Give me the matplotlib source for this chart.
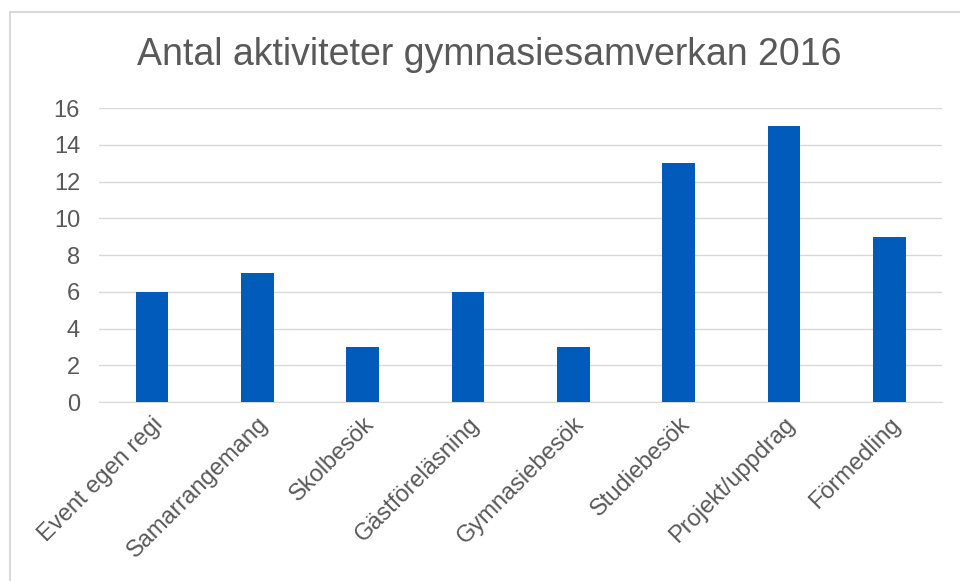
import matplotlib
matplotlib.use('Agg')
import matplotlib.pyplot as plt
from matplotlib.patches import Rectangle

categories = ['Event egen regi', 'Samarrangemang', 'Skolbesök', 'Gästföreläsning',
              'Gymnasiebesök', 'Studiebesök', 'Projekt/uppdrag', 'Förmedling']
values = [6, 7, 3, 6, 3, 13, 15, 9]
yticks = [0, 2, 4, 6, 8, 10, 12, 14, 16]

plt.rcParams['font.family'] = ['Liberation Sans', 'DejaVu Sans']
text_color = '#595959'
grid_color = '#d9d9d9'
bar_color = '#005bbb'

fig = plt.figure(figsize=(9.6, 5.81), dpi=100)
ax = fig.add_axes([0.1036, 0.308, 0.8775, 0.506])

x = range(len(categories))
ax.bar(x, values, width=0.31, color=bar_color, zorder=3)
ax.set_xlim(-0.5, len(categories) - 0.5)
ax.set_ylim(0, 16)
ax.set_yticks(yticks)
ax.yaxis.grid(True, color=grid_color, linewidth=1)
ax.set_axisbelow(True)
for s in ['top', 'right', 'left']:
    ax.spines[s].set_visible(False)
ax.spines['bottom'].set_color(grid_color)
ax.tick_params(axis='both', length=0, colors=text_color, labelsize=17)
ax.tick_params(axis='y', pad=14)
ax.tick_params(axis='x', pad=8)
ax.set_xticks(list(x))
ax.set_xticklabels(categories, rotation=45, ha='right', rotation_mode='anchor')

fig.text(0.51, 0.905, 'Antal aktiviteter gymnasiesamverkan 2016', ha='center', va='center',
         fontsize=27, color=text_color)

# chart frame (cut off at right and bottom)
fig.patches.append(Rectangle((10 / 960, -0.1), 1.2, 1 - 12 / 581 + 0.1, transform=fig.transFigure,
                             fill=False, edgecolor=grid_color, linewidth=1.5))

fig.savefig('out.png', dpi=100)
